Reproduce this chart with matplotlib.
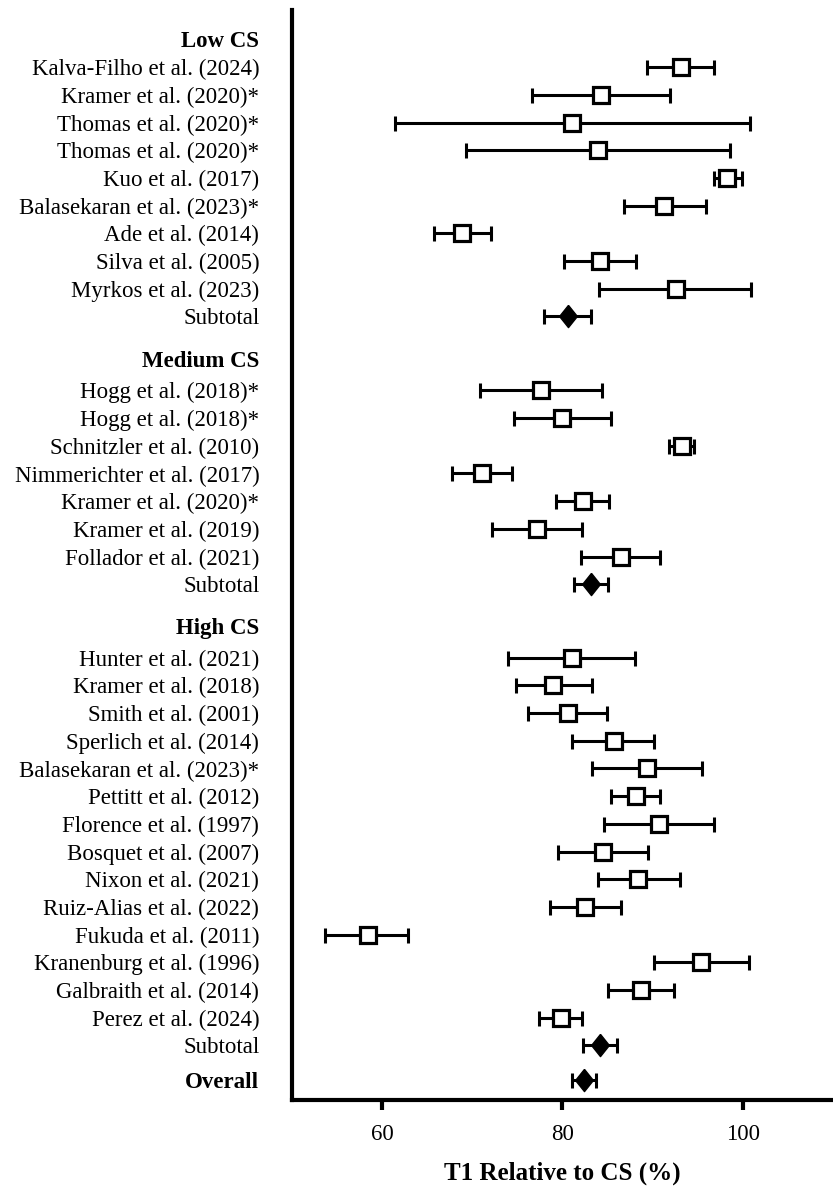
import matplotlib
matplotlib.use("Agg")
import matplotlib.pyplot as plt
from matplotlib.path import Path

plt.rcParams['font.family'] = ['Liberation Serif', 'DejaVu Serif']

# --- data (T1 relative to CS, %) ---
low_labels = ["Kalva-Filho et al. (2024)", "Kramer et al. (2020)*", "Thomas et al. (2020)*",
              "Thomas et al. (2020)*", "Kuo et al. (2017)", "Balasekaran et al. (2023)*",
              "Ade et al. (2014)", "Silva et al. (2005)", "Myrkos et al. (2023)"]
low_mean = [93.1, 84.3, 81.0, 83.9, 98.3, 91.3, 68.9, 84.2, 92.6]
low_lo = [89.4, 76.6, 61.4, 69.3, 96.8, 86.8, 65.7, 80.2, 84.1]
low_hi = [96.8, 91.9, 100.8, 98.6, 99.9, 95.9, 72.1, 88.2, 100.9]

med_labels = ["Hogg et al. (2018)*", "Hogg et al. (2018)*", "Schnitzler et al. (2010)",
              "Nimmerichter et al. (2017)", "Kramer et al. (2020)*", "Kramer et al. (2019)",
              "Follador et al. (2021)"]
med_mean = [77.6, 80.0, 93.2, 71.1, 82.3, 77.2, 86.5]
med_lo = [70.8, 74.6, 91.8, 67.8, 79.3, 72.2, 82.1]
med_hi = [84.4, 85.4, 94.6, 74.4, 85.2, 82.2, 90.8]

high_labels = ["Hunter et al. (2021)", "Kramer et al. (2018)", "Smith et al. (2001)",
               "Sperlich et al. (2014)", "Balasekaran et al. (2023)*", "Pettitt et al. (2012)",
               "Florence et al. (1997)", "Bosquet et al. (2007)", "Nixon et al. (2021)",
               "Ruiz-Alias et al. (2022)", "Fukuda et al. (2011)", "Kranenburg et al. (1996)",
               "Galbraith et al. (2014)", "Perez et al. (2024)"]
high_mean = [81.0, 79.0, 80.6, 85.7, 89.4, 88.1, 90.7, 84.5, 88.4, 82.5, 58.4, 95.4, 88.7, 79.8]
high_lo = [74.0, 74.8, 76.2, 81.1, 83.3, 85.4, 84.6, 79.5, 83.9, 78.6, 53.7, 90.2, 85.1, 77.4]
high_hi = [88.0, 83.3, 84.9, 90.2, 95.5, 90.8, 96.8, 89.5, 93.0, 86.5, 62.9, 100.7, 92.4, 82.2]

group_names = ["Low CS", "Medium CS", "High CS"]
sub_mean = [80.6, 83.2, 84.2]
sub_lo = [78.0, 81.3, 82.3]
sub_hi = [83.2, 85.1, 86.1]

overall_mean = 82.4
overall_lo = 81.0
overall_hi = 83.7

groups = [(low_labels, low_mean, low_lo, low_hi),
          (med_labels, med_mean, med_lo, med_hi),
          (high_labels, high_mean, high_lo, high_hi)]

# row spacing (in row units) after a header and after a subtotal
head_gap = [1.0, 1.12, 1.15]
sub_gap = [1.55, 1.5, 1.25]

fig = plt.figure(figsize=(8.33, 11.87), dpi=100)
ax = fig.add_axes([0.3505, 0.0733, 0.6495, 0.9183])

# narrow diamond for pooled estimates
diamond = Path([(0, 1), (0.8, 0), (0, -1), (-0.8, 0), (0, 1)])

err_kw = dict(fmt='none', ecolor='black', elinewidth=2.2, capsize=5.4, capthick=2.2, zorder=2)

ticks, tick_text, bold_rows = [], [], []
y = 0.0
for gi, (labels, mean, lo, hi) in enumerate(groups):
    ticks.append(y)
    tick_text.append(group_names[gi])
    bold_rows.append(len(ticks) - 1)
    y += head_gap[gi]
    for lab, m, l, h in zip(labels, mean, lo, hi):
        ax.errorbar(m, y, xerr=[[m - l], [h - m]], **err_kw)
        ax.plot(m, y, marker='s', ms=11.2, mfc='white', mec='black', mew=2.3, zorder=3)
        ticks.append(y)
        tick_text.append(lab)
        y += 1.0
    m, l, h = sub_mean[gi], sub_lo[gi], sub_hi[gi]
    ax.errorbar(m, y, xerr=[[m - l], [h - m]], **err_kw)
    ax.plot(m, y, marker=diamond, ms=16, color='black', zorder=3)
    ticks.append(y)
    tick_text.append("Subtotal")
    y += sub_gap[gi]

ax.errorbar(overall_mean, y, xerr=[[overall_mean - overall_lo], [overall_hi - overall_mean]], **err_kw)
ax.plot(overall_mean, y, marker=diamond, ms=16, color='black', zorder=3)
ticks.append(y)
tick_text.append("Overall")
bold_rows.append(len(ticks) - 1)

ax.set_xlim(50, 110)
ax.set_ylim(38.29, -1.065)
ax.set_xticks([60, 80, 100])

ax.set_yticks(ticks)
ax.set_yticklabels(tick_text, fontsize=16.5)
for i in bold_rows:
    ax.get_yticklabels()[i].set_fontweight('bold')
ax.tick_params(axis='y', length=0, pad=23.5)
ax.tick_params(axis='x', length=7.5, width=3, labelsize=16.5, pad=10)

for side in ['top', 'right']:
    ax.spines[side].set_visible(False)
for side in ['left', 'bottom']:
    ax.spines[side].set_linewidth(3)

ax.set_xlabel("T1 Relative to CS (%)", fontsize=18, fontweight='bold', labelpad=12)

fig.savefig("out.png", dpi=100)
